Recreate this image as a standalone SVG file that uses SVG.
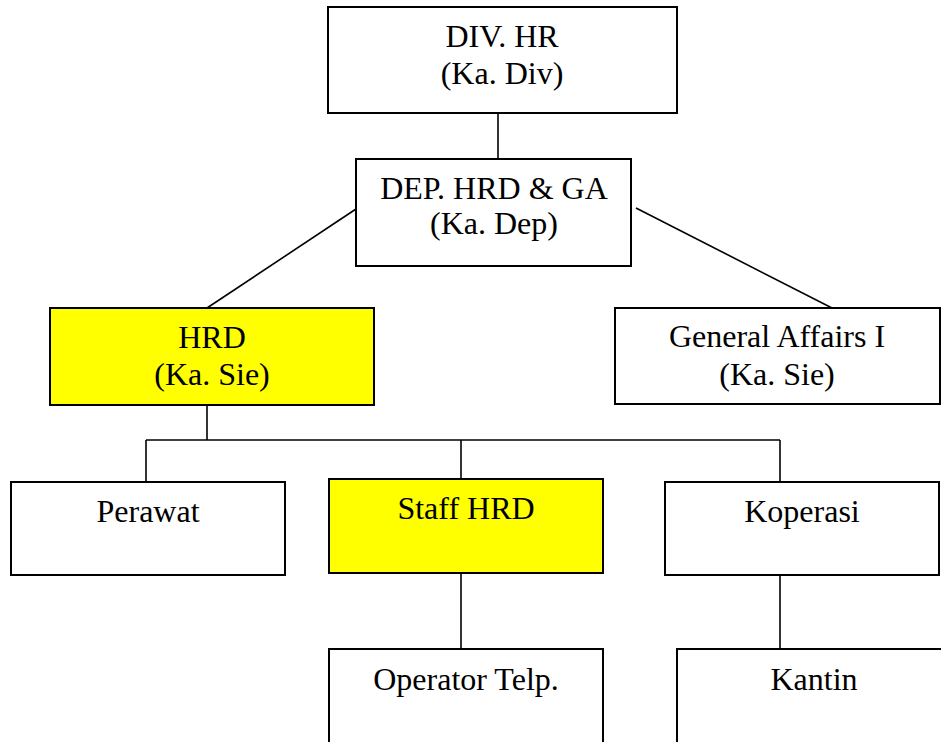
<svg xmlns="http://www.w3.org/2000/svg" width="941" height="742" viewBox="0 0 941 742">
<style>
.box{fill:#fff;stroke:#000;stroke-width:2}
.yel{fill:#ffff00;stroke:#000;stroke-width:2}
.ln{stroke:#000;stroke-width:1.6;fill:none}
text{font-family:"Liberation Serif","Times New Roman",serif;font-size:32px;fill:#000;text-anchor:middle}
</style>
<rect width="941" height="742" fill="#fff"/>
<g id="connectors">
<line class="ln" x1="498" y1="113" x2="498" y2="159"/>
<line class="ln" x1="356" y1="209" x2="207" y2="308"/>
<line class="ln" x1="636" y1="208" x2="832" y2="308"/>
<line class="ln" x1="207" y1="405" x2="207" y2="440"/>
<line class="ln" x1="146" y1="440" x2="780" y2="440"/>
<line class="ln" x1="146" y1="440" x2="146" y2="482"/>
<line class="ln" x1="461" y1="440" x2="461" y2="482"/>
<line class="ln" x1="780" y1="440" x2="780" y2="482"/>
<line class="ln" x1="461" y1="573" x2="461" y2="649"/>
<line class="ln" x1="780" y1="573" x2="780" y2="649"/>
</g>
<g id="div-hr">
<rect class="box" x="328" y="7" width="349" height="106"/>
<text x="502" y="47">DIV. HR</text>
<text x="502" y="84">(Ka. Div)</text>
</g>
<g id="dep-hrd-ga">
<rect class="box" x="356" y="159" width="275" height="107"/>
<text x="494" y="199">DEP. HRD &amp; GA</text>
<text x="494" y="234">(Ka. Dep)</text>
</g>
<g id="hrd">
<rect class="yel" x="50" y="308" width="324" height="97"/>
<text x="212" y="348">HRD</text>
<text x="212" y="385">(Ka. Sie)</text>
</g>
<g id="general-affairs">
<rect class="box" x="615" y="308" width="325" height="96"/>
<text x="777" y="347">General Affairs I</text>
<text x="777" y="385">(Ka. Sie)</text>
</g>
<g id="perawat">
<rect class="box" x="11" y="482" width="274" height="93"/>
<text x="148" y="522">Perawat</text>
</g>
<g id="staff-hrd">
<rect class="yel" x="329" y="479" width="274" height="94"/>
<text x="466" y="519">Staff HRD</text>
</g>
<g id="koperasi">
<rect class="box" x="665" y="482" width="274" height="93"/>
<text x="802" y="522">Koperasi</text>
</g>
<g id="operator-telp">
<rect class="box" x="329" y="649" width="274" height="110"/>
<text x="466" y="690">Operator Telp.</text>
</g>
<g id="kantin">
<rect class="box" x="677" y="649" width="274" height="110"/>
<text x="814" y="690">Kantin</text>
</g>
</svg>
